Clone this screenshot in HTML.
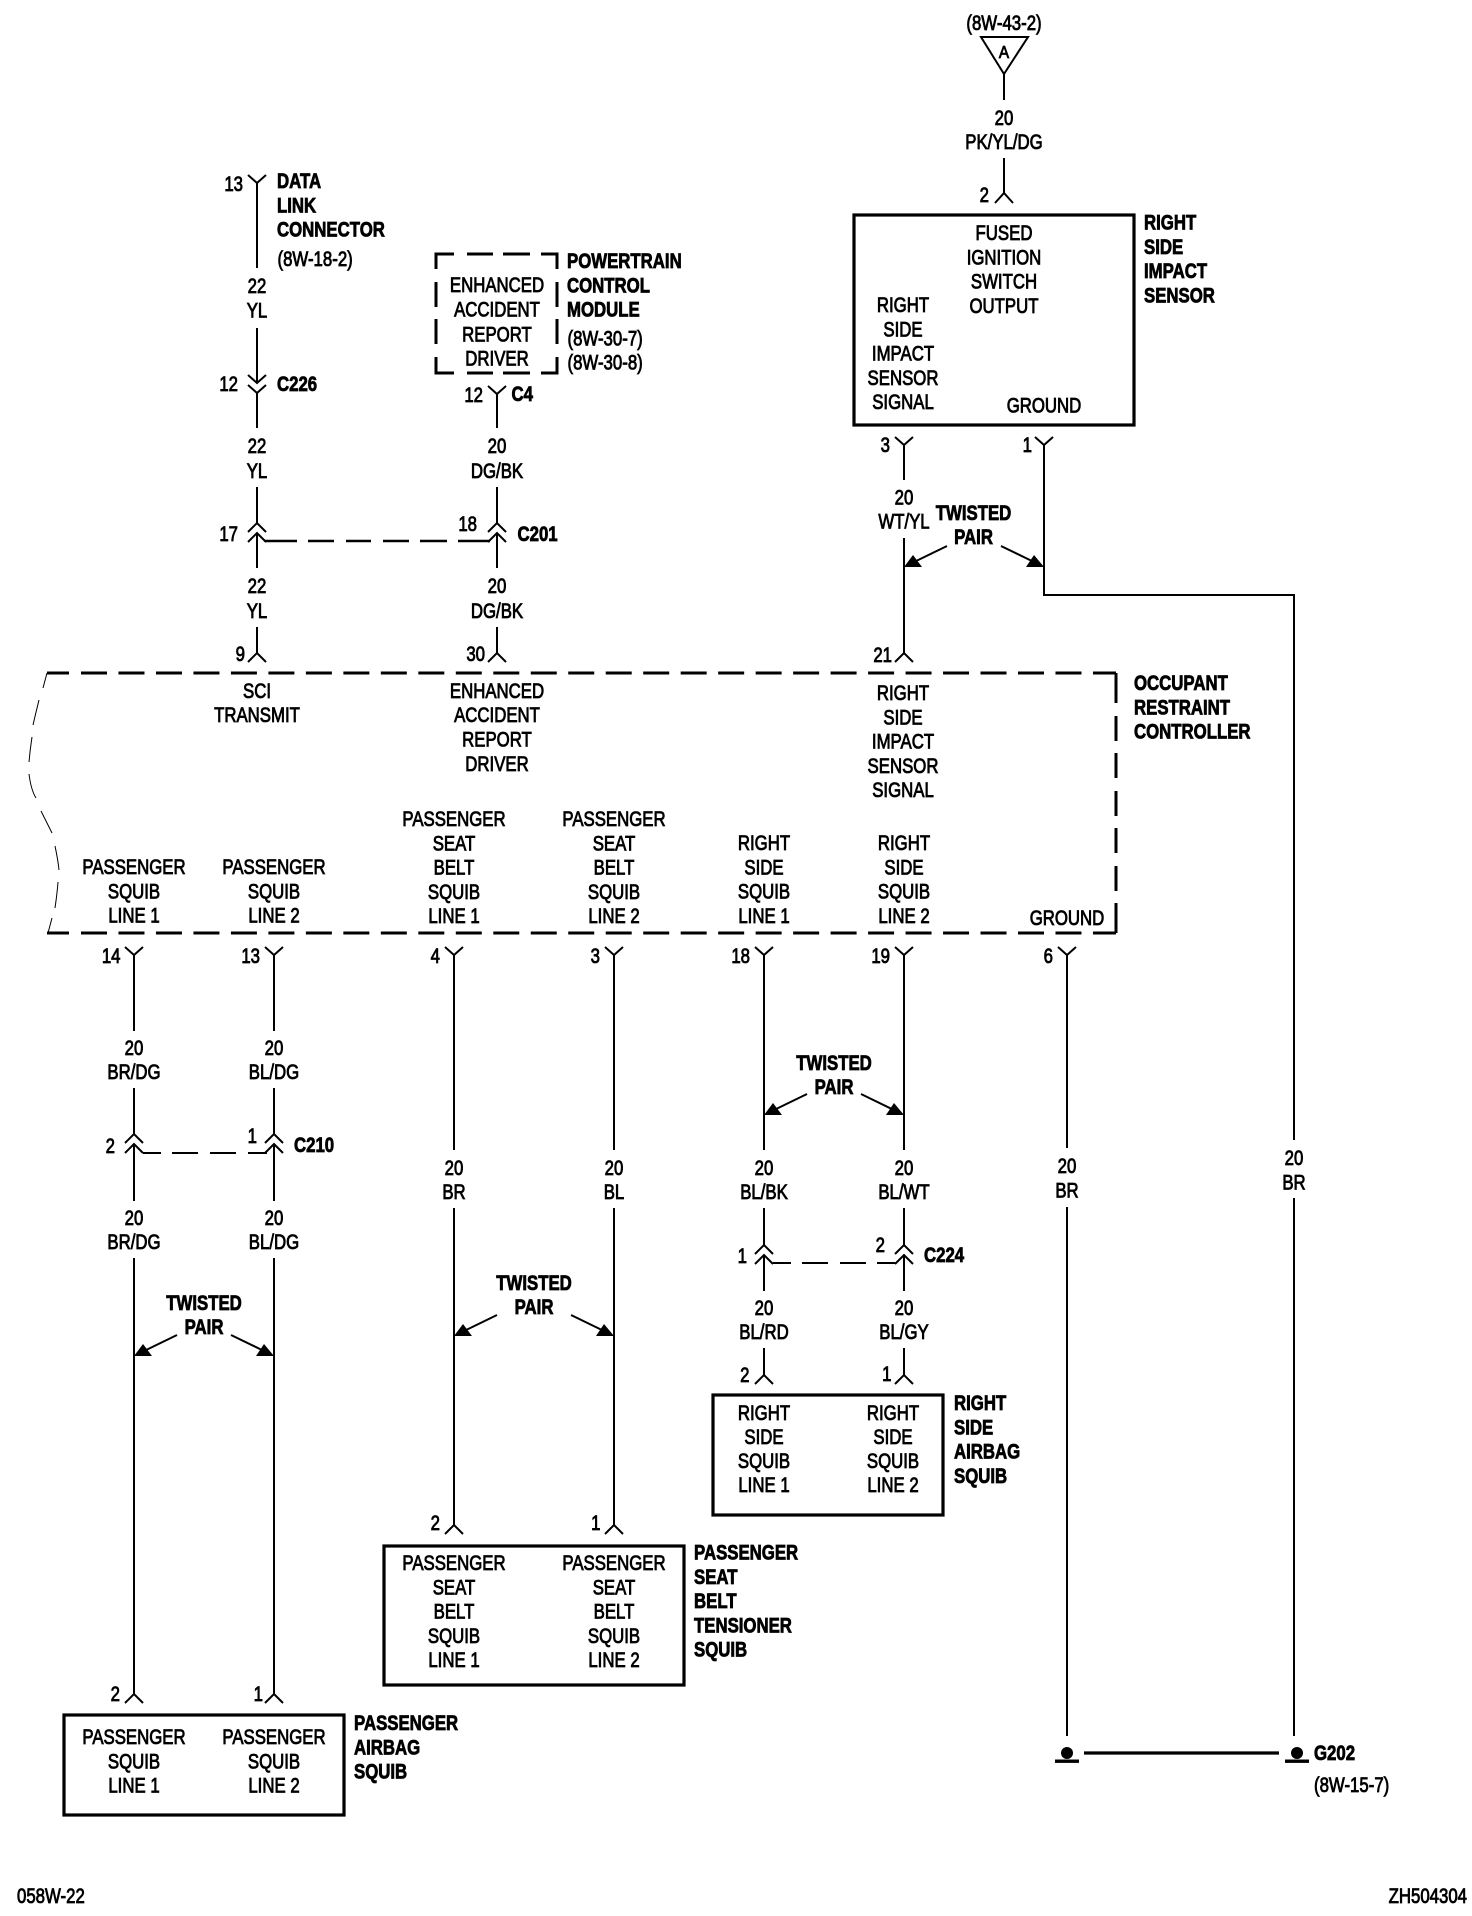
<!DOCTYPE html>
<html>
<head>
<meta charset="utf-8">
<title>Occupant Restraint Controller wiring diagram</title>
<style>
html,body{margin:0;padding:0;background:#fff}
svg{display:block}
text{font-family:"Liberation Sans",Arial,sans-serif;font-size:21px;fill:#000;stroke:#000;stroke-width:.85px}
.b text,text.b{font-weight:700;stroke-width:.8px}
.c text,text.c{text-anchor:middle}
.e text,text.e{text-anchor:end}
.w{fill:none;stroke:#000;stroke-width:2}
.k{fill:none;stroke:#000;stroke-width:3.2}
.d{fill:none;stroke:#000;stroke-width:3}
.t{fill:none;stroke:#000;stroke-width:1}
</style>
</head>
<body>
<svg xmlns="http://www.w3.org/2000/svg" width="1472" height="1916" viewBox="0 0 1472 1916">
<defs>
<g id="ch" class="w"><path d="M-9 9L0 0L9 9M-9 19L0 10L9 19"/></g>
<g id="al"><path class="w" d="M43 -21L8 -4"/><path d="M0 0L18 0L9 -12Z"/></g>
<g id="ar"><path class="w" d="M-43 -21L-8 -4"/><path d="M0 0L-18 0L-10 -12Z"/></g>
</defs>

<!-- wires -->
<path class="w" d="M981 37H1028L1004 74Z"/>
<path class="w" d="M1004 74V100M1004 158V193M995 203L1004 193L1013 203"/>
<path class="w" d="M895 437L904 445L913 437M904 445V480M904 538V653M895 662L904 653L913 662"/>
<path class="w" d="M1035 437L1044 445L1053 437M1044 445V595H1294V1140M1294 1198V1736"/>
<path class="w" d="M248 175L257 183L266 175M257 183V268M257 328V383M248 375L257 383L266 375M248 385L257 393L266 385M257 393V428M257 487V523M257 533V568M257 627V653M248 662L257 653L266 662"/>
<path class="w" d="M488 386L497 394L506 386M497 394V428M497 487V523M497 533V568M497 627V653M488 662L497 653L506 662"/>
<use href="#ch" x="257" y="523"/><use href="#ch" x="497" y="523"/>
<path class="d" style="stroke-width:2.5" d="M265 541H297M308 541H334M346 541H371M383 541H409M420 541H447M458 541H490"/>

<path class="w" d="M125 947L134 955L143 947M134 955V1031M134 1088V1134M134 1145V1201M134 1258V1694M125 1703L134 1694L143 1703"/>
<path class="w" d="M265 947L274 955L283 947M274 955V1031M274 1088V1134M274 1145V1201M274 1258V1694M265 1703L274 1694L283 1703"/>
<use href="#ch" x="134" y="1134"/><use href="#ch" x="274" y="1134"/>
<path class="w" d="M143 1153H161M172 1153H198M210 1153H236M248 1153H267"/>

<path class="w" d="M445 947L454 955L463 947M454 955V1150M454 1208V1525M445 1534L454 1525L463 1534"/>
<path class="w" d="M605 947L614 955L623 947M614 955V1150M614 1208V1525M605 1534L614 1525L623 1534"/>
<path class="w" d="M755 947L764 955L773 947M764 955V1150M764 1208V1245M764 1255V1291M764 1348V1375M755 1384L764 1375L773 1384"/>
<path class="w" d="M895 947L904 955L913 947M904 955V1150M904 1208V1245M904 1255V1291M904 1348V1375M895 1384L904 1375L913 1384"/>
<use href="#ch" x="764" y="1245"/><use href="#ch" x="904" y="1245"/>
<path class="w" d="M773 1263H791M802 1263H828M840 1263H866M877 1263H895"/>
<path class="w" d="M1058 947L1067 955L1076 947M1067 955V1148M1067 1207V1736"/>

<!-- twisted pair arrows -->
<use href="#al" x="904" y="567"/><use href="#ar" x="1044" y="567"/>
<use href="#al" x="134" y="1356"/><use href="#ar" x="274" y="1356"/>
<use href="#al" x="454" y="1336"/><use href="#ar" x="614" y="1336"/>
<use href="#al" x="764" y="1115"/><use href="#ar" x="904" y="1115"/>

<!-- boxes -->
<rect class="k" x="854" y="215" width="280" height="210"/>
<rect class="k" x="64" y="1715" width="280" height="100"/>
<rect class="k" x="384" y="1546" width="300" height="139"/>
<rect class="k" x="713" y="1395" width="230" height="120"/>

<!-- PCM dashed box -->
<path class="d" d="M436 269V254H454M467 254H493M503 254H530M541 254H557V269M557 282V307M557 319V344M557 357V373H541M530 373H503M493 373H467M454 373H436V357M436 344V319M436 307V282"/>

<!-- Occupant restraint controller dashed box -->
<path class="d" d="M69 673H47M47 933H69"/>
<path class="d" stroke-dasharray="26 11.48" d="M81 673H1116"/>
<path class="d" stroke-dasharray="26 11.48" d="M81 933H1116"/>
<path class="d" d="M1116 673V703M1116 716V741M1116 753V778M1116 791V816M1116 828V853M1116 866V891M1116 903V933"/>
<path class="t" d="M47 673L43 688M39 700Q36 712 33 725M32 737Q30 750 29 762M29 774Q31 790 36 798M41 811L52 833M55 846Q58 860 59 870M58 882Q57 895 55 908M52 918L48 933"/>

<!-- ground -->
<circle cx="1067" cy="1753" r="6"/><rect x="1055" y="1759.5" width="24" height="3.4"/>
<circle cx="1297" cy="1753" r="6"/><rect x="1285" y="1759.5" width="24" height="3.4"/>
<path class="k" d="M1084 1753H1279"/>

<!-- top -->
<text class="c" transform="translate(1004 30) scale(.8 1)">(8W-43-2)</text>
<text class="c" style="font-size:18px" transform="translate(1004 58) scale(.85 1)">A</text>
<g class="c" transform="translate(1004 125) scale(.8 1)"><text>20</text><text y="24">PK/YL/DG</text></g>
<text class="e" transform="translate(989 202) scale(.8 1)">2</text>
<g class="c" transform="translate(1004 240) scale(.8 1)"><text>FUSED</text><text y="24.3">IGNITION</text><text y="48.6">SWITCH</text><text y="72.9">OUTPUT</text></g>
<g class="c" transform="translate(903 312) scale(.8 1)"><text>RIGHT</text><text y="24.3">SIDE</text><text y="48.6">IMPACT</text><text y="72.9">SENSOR</text><text y="97.2">SIGNAL</text></g>
<text class="c" transform="translate(1044 412.5) scale(.8 1)">GROUND</text>
<g class="b" transform="translate(1144 229.5) scale(.8 1)"><text>RIGHT</text><text y="24.3">SIDE</text><text y="48.6">IMPACT</text><text y="72.9">SENSOR</text></g>
<text class="e" transform="translate(890 452) scale(.8 1)">3</text>
<text class="e" transform="translate(1032 452) scale(.8 1)">1</text>
<g class="c" transform="translate(904 504.5) scale(.8 1)"><text>20</text><text y="24">WT/YL</text></g>
<g class="c b" transform="translate(973.5 520) scale(.8 1)"><text>TWISTED</text><text y="24">PAIR</text></g>
<text class="e" transform="translate(892 662) scale(.8 1)">21</text>

<!-- DLC -->
<text class="e" transform="translate(243 191) scale(.8 1)">13</text>
<g class="b" transform="translate(277 188) scale(.8 1)"><text>DATA</text><text y="24.3">LINK</text><text y="48.6">CONNECTOR</text></g>
<text transform="translate(277.5 266) scale(.8 1)">(8W-18-2)</text>
<g class="c" transform="translate(257 293) scale(.8 1)"><text>22</text><text y="24.5">YL</text></g>
<text class="e" transform="translate(238 391) scale(.8 1)">12</text>
<text class="b" transform="translate(277 391) scale(.8 1)">C226</text>
<g class="c" transform="translate(257 453) scale(.8 1)"><text>22</text><text y="25">YL</text></g>
<text class="e" transform="translate(238 541) scale(.8 1)">17</text>
<g class="c" transform="translate(257 593) scale(.8 1)"><text>22</text><text y="25">YL</text></g>
<text class="e" transform="translate(245 661) scale(.8 1)">9</text>

<!-- PCM -->
<g class="c" transform="translate(497 292) scale(.8 1)"><text>ENHANCED</text><text y="24.5">ACCIDENT</text><text y="49.5">REPORT</text><text y="73.5">DRIVER</text></g>
<g class="b" transform="translate(567 268) scale(.8 1)"><text>POWERTRAIN</text><text y="24.3">CONTROL</text><text y="48.6">MODULE</text></g>
<text transform="translate(567.5 345.5) scale(.8 1)">(8W-30-7)</text>
<text transform="translate(567.5 369.5) scale(.8 1)">(8W-30-8)</text>
<text class="e" transform="translate(483 402) scale(.8 1)">12</text>
<text class="b" transform="translate(511.5 401) scale(.8 1)">C4</text>
<g class="c" transform="translate(497 453) scale(.8 1)"><text>20</text><text y="25">DG/BK</text></g>
<text class="e" transform="translate(477 531) scale(.8 1)">18</text>
<text class="b" transform="translate(517.5 541) scale(.8 1)">C201</text>
<g class="c" transform="translate(497 593) scale(.8 1)"><text>20</text><text y="25">DG/BK</text></g>
<text class="e" transform="translate(485 661) scale(.8 1)">30</text>

<!-- Occupant text -->
<g class="c" transform="translate(257 698) scale(.8 1)"><text>SCI</text><text y="24">TRANSMIT</text></g>
<g class="c" transform="translate(497 698) scale(.8 1)"><text>ENHANCED</text><text y="24">ACCIDENT</text><text y="48.5">REPORT</text><text y="73">DRIVER</text></g>
<g class="c" transform="translate(903 700) scale(.8 1)"><text>RIGHT</text><text y="24.3">SIDE</text><text y="48.6">IMPACT</text><text y="72.9">SENSOR</text><text y="97.2">SIGNAL</text></g>
<g class="c" transform="translate(134 874) scale(.8 1)"><text>PASSENGER</text><text y="24.3">SQUIB</text><text y="48.6">LINE 1</text></g>
<g class="c" transform="translate(274 874) scale(.8 1)"><text>PASSENGER</text><text y="24.3">SQUIB</text><text y="48.6">LINE 2</text></g>
<g class="c" transform="translate(454 826) scale(.8 1)"><text>PASSENGER</text><text y="24.3">SEAT</text><text y="48.6">BELT</text><text y="72.9">SQUIB</text><text y="97.2">LINE 1</text></g>
<g class="c" transform="translate(614 826) scale(.8 1)"><text>PASSENGER</text><text y="24.3">SEAT</text><text y="48.6">BELT</text><text y="72.9">SQUIB</text><text y="97.2">LINE 2</text></g>
<g class="c" transform="translate(764 850) scale(.8 1)"><text>RIGHT</text><text y="24.3">SIDE</text><text y="48.6">SQUIB</text><text y="72.9">LINE 1</text></g>
<g class="c" transform="translate(904 850) scale(.8 1)"><text>RIGHT</text><text y="24.3">SIDE</text><text y="48.6">SQUIB</text><text y="72.9">LINE 2</text></g>
<text class="c" transform="translate(1067 925) scale(.8 1)">GROUND</text>
<g class="b" transform="translate(1134 690) scale(.8 1)"><text>OCCUPANT</text><text y="24.3">RESTRAINT</text><text y="48.6">CONTROLLER</text></g>

<!-- pins under controller -->
<text class="e" transform="translate(120.5 963) scale(.8 1)">14</text>
<text class="e" transform="translate(260 963) scale(.8 1)">13</text>
<text class="e" transform="translate(440 963) scale(.8 1)">4</text>
<text class="e" transform="translate(600 963) scale(.8 1)">3</text>
<text class="e" transform="translate(750 963) scale(.8 1)">18</text>
<text class="e" transform="translate(890 963) scale(.8 1)">19</text>
<text class="e" transform="translate(1053 963) scale(.8 1)">6</text>

<!-- column 1,2 -->
<g class="c" transform="translate(134 1055) scale(.8 1)"><text>20</text><text y="24">BR/DG</text></g>
<g class="c" transform="translate(274 1055) scale(.8 1)"><text>20</text><text y="24">BL/DG</text></g>
<text class="e" transform="translate(115 1153) scale(.8 1)">2</text>
<text class="e" transform="translate(257 1143) scale(.8 1)">1</text>
<text class="b" transform="translate(294 1152) scale(.8 1)">C210</text>
<g class="c" transform="translate(134 1225) scale(.8 1)"><text>20</text><text y="24">BR/DG</text></g>
<g class="c" transform="translate(274 1225) scale(.8 1)"><text>20</text><text y="24">BL/DG</text></g>
<g class="c b" transform="translate(204 1310) scale(.8 1)"><text>TWISTED</text><text y="24">PAIR</text></g>
<text class="e" transform="translate(120 1701) scale(.8 1)">2</text>
<text class="e" transform="translate(263 1701) scale(.8 1)">1</text>
<g class="c" transform="translate(134 1744) scale(.8 1)"><text>PASSENGER</text><text y="24.3">SQUIB</text><text y="48.6">LINE 1</text></g>
<g class="c" transform="translate(274 1744) scale(.8 1)"><text>PASSENGER</text><text y="24.3">SQUIB</text><text y="48.6">LINE 2</text></g>
<g class="b" transform="translate(354 1730) scale(.8 1)"><text>PASSENGER</text><text y="24.3">AIRBAG</text><text y="48.6">SQUIB</text></g>

<!-- column 3,4 -->
<g class="c" transform="translate(454 1175) scale(.8 1)"><text>20</text><text y="24">BR</text></g>
<g class="c" transform="translate(614 1175) scale(.8 1)"><text>20</text><text y="24">BL</text></g>
<g class="c b" transform="translate(534 1290) scale(.8 1)"><text>TWISTED</text><text y="24">PAIR</text></g>
<text class="e" transform="translate(440 1530) scale(.8 1)">2</text>
<text class="e" transform="translate(600.5 1530) scale(.8 1)">1</text>
<g class="c" transform="translate(454 1570) scale(.8 1)"><text>PASSENGER</text><text y="24.3">SEAT</text><text y="48.6">BELT</text><text y="72.9">SQUIB</text><text y="97.2">LINE 1</text></g>
<g class="c" transform="translate(614 1570) scale(.8 1)"><text>PASSENGER</text><text y="24.3">SEAT</text><text y="48.6">BELT</text><text y="72.9">SQUIB</text><text y="97.2">LINE 2</text></g>
<g class="b" transform="translate(694 1559.5) scale(.8 1)"><text>PASSENGER</text><text y="24.3">SEAT</text><text y="48.6">BELT</text><text y="72.9">TENSIONER</text><text y="97.2">SQUIB</text></g>

<!-- column 5,6 -->
<g class="c b" transform="translate(834 1070) scale(.8 1)"><text>TWISTED</text><text y="24">PAIR</text></g>
<g class="c" transform="translate(764 1175) scale(.8 1)"><text>20</text><text y="24">BL/BK</text></g>
<g class="c" transform="translate(904 1175) scale(.8 1)"><text>20</text><text y="24">BL/WT</text></g>
<text class="e" transform="translate(747 1263) scale(.8 1)">1</text>
<text class="e" transform="translate(885 1252) scale(.8 1)">2</text>
<text class="b" transform="translate(924 1262) scale(.8 1)">C224</text>
<g class="c" transform="translate(764 1315) scale(.8 1)"><text>20</text><text y="24">BL/RD</text></g>
<g class="c" transform="translate(904 1315) scale(.8 1)"><text>20</text><text y="24">BL/GY</text></g>
<text class="e" transform="translate(749.5 1382) scale(.8 1)">2</text>
<text class="e" transform="translate(891.5 1381) scale(.8 1)">1</text>
<g class="c" transform="translate(764 1420) scale(.8 1)"><text>RIGHT</text><text y="24">SIDE</text><text y="48">SQUIB</text><text y="72">LINE 1</text></g>
<g class="c" transform="translate(893 1420) scale(.8 1)"><text>RIGHT</text><text y="24">SIDE</text><text y="48">SQUIB</text><text y="72">LINE 2</text></g>
<g class="b" transform="translate(954 1410) scale(.8 1)"><text>RIGHT</text><text y="24.3">SIDE</text><text y="48.6">AIRBAG</text><text y="72.9">SQUIB</text></g>

<!-- right -->
<g class="c" transform="translate(1067 1173) scale(.8 1)"><text>20</text><text y="24.5">BR</text></g>
<g class="c" transform="translate(1294 1165) scale(.8 1)"><text>20</text><text y="24.5">BR</text></g>
<text class="b" transform="translate(1314 1760) scale(.8 1)">G202</text>
<text transform="translate(1314 1792) scale(.8 1)">(8W-15-7)</text>

<!-- footer -->
<text transform="translate(17 1903) scale(.8 1)">058W-22</text>
<text class="e" transform="translate(1467 1903) scale(.8 1)">ZH504304</text>
</svg>
</body>
</html>
